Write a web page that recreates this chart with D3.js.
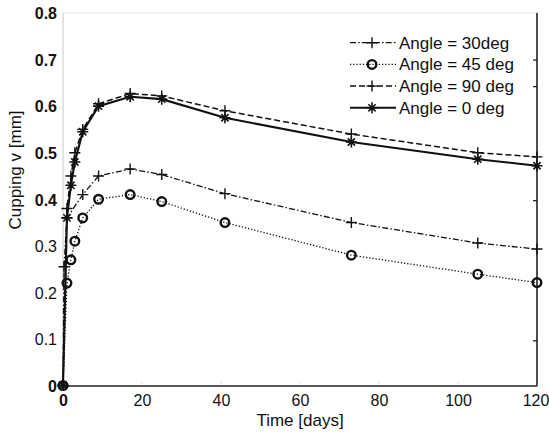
<!DOCTYPE html>
<html>
<head>
<meta charset="utf-8">
<script src="https://cdn.jsdelivr.net/npm/d3@7"></script>
<style>
  html, body { margin: 0; padding: 0; background: #fff; }
  svg { display: block; font-family: "Liberation Sans", Arial, Helvetica, sans-serif; }
</style>
</head>
<body>
<svg id="chart" width="549" height="435"></svg>
<script>
// Measurement times (days) and cupping values (mm) per fibre angle
const days = [0, 1, 2, 3, 5, 9, 17, 25, 41, 73, 105, 120];
const days30 = [0, 0.25, 1, 5, 9, 17, 25, 41, 73, 105, 120];
const cup30 = [0, 0.255, 0.36, 0.41, 0.45, 0.465, 0.453, 0.412, 0.35, 0.306, 0.293];
const cup45 = [0, 0.22, 0.27, 0.31, 0.36, 0.40, 0.41, 0.395, 0.35, 0.28, 0.239, 0.221];
const cup90 = [0, 0.38, 0.45, 0.50, 0.55, 0.605, 0.627, 0.622, 0.59, 0.54, 0.50, 0.491];
const cup0  = [0, 0.36, 0.43, 0.48, 0.545, 0.60, 0.62, 0.615, 0.575, 0.523, 0.486, 0.472];

const seriesNames = ["Angle = 30deg", "Angle = 45 deg", "Angle = 90 deg", "Angle = 0 deg"];
const xTicks = [0, 20, 40, 60, 80, 100, 120];
const yTicks = [0, 0.1, 0.2, 0.3, 0.4, 0.5, 0.6, 0.7, 0.8];
const rightTicks = [0.097, 0.398, 0.643, 0.7];

const svg = d3.select("#chart");
const x = d3.scaleLinear().domain([0, 120]).range([63, 537]);
const y = d3.scaleLinear().domain([0, 0.8]).range([385.5, 13]);

// Line styles and markers for each series
const styles = [
  { dash: "6,2.2,1.5,2.2", width: 1.3, marker: "plus" },
  { dash: "1.3,1.9", width: 1.3, marker: "circle" },
  { dash: "6,3", width: 1.5, marker: "plus" },
  { dash: null, width: 2.1, marker: "star" }
];

const series = [
  { t: days30, v: cup30 },
  { t: days, v: cup45 },
  { t: days, v: cup90 },
  { t: days, v: cup0 }
].map((s, i) => ({
  name: seriesNames[i],
  style: styles[i],
  points: s.t.map((t, j) => ({ t, v: s.v[j] }))
}));

// Frame: faint top and left edges, dark bottom and right edges
svg.append("line").attr("x1", x(0)).attr("x2", x(120)).attr("y1", y(0.8)).attr("y2", y(0.8))
  .attr("stroke", "#e2e2e2").attr("stroke-width", 1);
svg.append("line").attr("x1", x(0)).attr("x2", x(0)).attr("y1", y(0.8)).attr("y2", y(0))
  .attr("stroke", "#c8c8c8").attr("stroke-width", 1);

// Bottom axis
const xAxis = d3.axisBottom(x).tickValues(xTicks).tickSize(0).tickPadding(0).tickFormat(d3.format("d"));
const gx = svg.append("g").attr("transform", `translate(0,${y(0)})`).call(xAxis);
gx.select(".domain").attr("stroke", "#222").attr("stroke-width", 1.6);
gx.selectAll(".tick text")
  .attr("y", 0).attr("dy", 20)
  .attr("x", d => d === 120 ? -1.5 : 0)
  .attr("fill", "#111")
  .style("font-size", "16px")
  .style("font-family", "'Liberation Sans', Arial, sans-serif")
  .style("font-weight", d => d === 0 ? "bold" : "normal");

// Small light tick marks along the bottom edge
svg.append("g").selectAll("line").data(xTicks.slice(1, -1)).join("line")
  .attr("x1", d => x(d)).attr("x2", d => x(d))
  .attr("y1", y(0) - 4).attr("y2", y(0) - 1)
  .attr("stroke", "#dcdcdc").attr("stroke-width", 1);

// Left axis labels
const yAxis = d3.axisLeft(y).tickValues(yTicks).tickSize(0).tickPadding(6)
  .tickFormat(d => d === 0 ? "0" : d3.format(".1f")(d));
const gy = svg.append("g").attr("transform", `translate(${x(0)},0)`).call(yAxis);
gy.select(".domain").remove();
gy.selectAll(".tick text")
  .attr("fill", "#111")
  .attr("dy", "0.36em")
  .style("font-size", "16px")
  .style("font-family", "'Liberation Sans', Arial, sans-serif")
  .style("font-weight", d => (d >= 0.35 || d === 0) ? "bold" : "normal");

// Right edge with inward ticks
const yRight = d3.axisRight(y).tickValues(rightTicks).tickSize(-4).tickFormat("");
const gr = svg.append("g").attr("transform", `translate(${x(120)},0)`).call(yRight);
gr.select(".domain").attr("stroke", "#222").attr("stroke-width", 1.6)
  .attr("d", `M0,${y(0.8)}V${y(0)}`);
gr.selectAll(".tick line").attr("stroke", "#222").attr("stroke-width", 1.3);

// Axis titles
svg.append("text")
  .attr("x", 300).attr("y", 426)
  .attr("text-anchor", "middle")
  .attr("fill", "#111")
  .style("font-size", "17px")
  .text("Time [days]");
svg.append("text")
  .attr("transform", `translate(20.5,170) rotate(-90)`)
  .attr("text-anchor", "middle")
  .attr("fill", "#111")
  .style("font-size", "17px")
  .text("Cupping v [mm]");

// Marker drawing
function drawMarker(g, type, cx, cy) {
  if (type === "plus") {
    g.append("path")
      .attr("d", `M${cx - 5.5},${cy}H${cx + 5.5}M${cx},${cy - 5.5}V${cy + 5.5}`)
      .attr("stroke", "#111").attr("stroke-width", 1.4).attr("fill", "none");
  } else if (type === "circle") {
    g.append("circle").attr("cx", cx).attr("cy", cy).attr("r", 4.3)
      .attr("stroke", "#111").attr("stroke-width", 2.4).attr("fill", "none");
  } else if (type === "star") {
    g.append("path")
      .attr("d", `M${cx - 5.5},${cy}H${cx + 5.5}M${cx},${cy - 5.5}V${cy + 5.5}` +
        `M${cx - 3.6},${cy - 3.6}L${cx + 3.6},${cy + 3.6}M${cx - 3.6},${cy + 3.6}L${cx + 3.6},${cy - 3.6}`)
      .attr("stroke", "#111").attr("stroke-width", 1.6).attr("fill", "none");
  }
}

const line = d3.line().x(d => x(d.t)).y(d => y(d.v));

// Series lines and markers
series.forEach(s => {
  const g = svg.append("g");
  g.append("path")
    .datum(s.points)
    .attr("d", line)
    .attr("fill", "none")
    .attr("stroke", "#111")
    .attr("stroke-width", s.style.width)
    .attr("stroke-dasharray", s.style.dash);
  s.points.forEach(p => drawMarker(g, s.style.marker, x(p.t), y(p.v)));
});

// Legend
const legend = svg.append("g");
series.forEach((s, i) => {
  const ly = 42.7 + i * 21.7;
  legend.append("line")
    .attr("x1", 350).attr("x2", 396).attr("y1", ly).attr("y2", ly)
    .attr("stroke", "#111")
    .attr("stroke-width", s.style.width)
    .attr("stroke-dasharray", s.style.dash);
  drawMarker(legend, s.style.marker, 372, ly);
  legend.append("text")
    .attr("x", 399).attr("y", ly + 6)
    .attr("fill", "#111")
    .style("font-size", "17px")
    .text(s.name);
});
</script>
</body>
</html>
